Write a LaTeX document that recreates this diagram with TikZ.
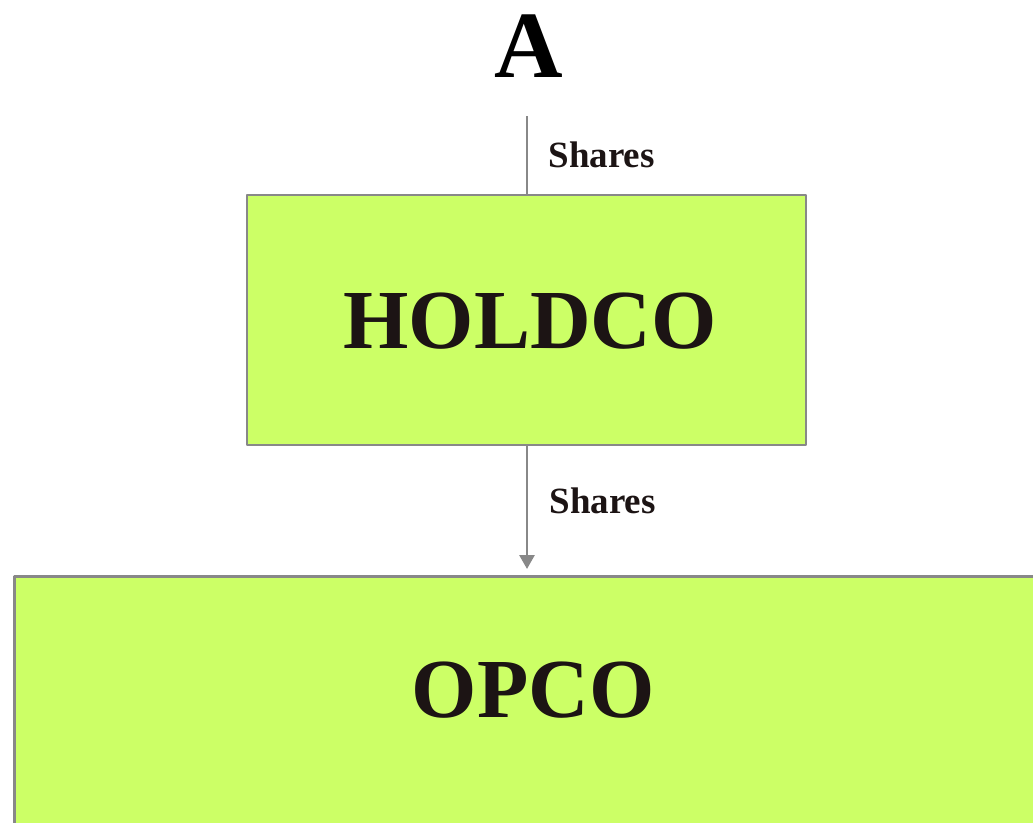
\documentclass[tikz,border=0pt]{standalone}
\usepackage{fontspec}
\setmainfont{Liberation Serif}
\usetikzlibrary{arrows.meta,positioning}
\definecolor{boxfill}{RGB}{204,255,102}
\definecolor{boxline}{RGB}{136,136,136}
\definecolor{ink}{RGB}{28,20,20}
\begin{document}
\begin{tikzpicture}[x=1pt, y=-1pt, line join=round, >={Triangle[width=15pt,length=14pt]}]
	\tikzset{
		entity/.style={draw=boxline, fill=boxfill, line width=2.8pt, inner sep=0pt},
		big/.style={font=\fontsize{84}{84}\selectfont\bfseries, text=ink},
		lbl/.style={font=\fontsize{37}{37}\selectfont\bfseries, text=ink, anchor=west},
		link/.style={draw=boxline, line width=2.8pt}
	}
	\useasboundingbox (0,0) rectangle (1033,822);
	\node[font=\fontsize{95}{95}\selectfont\bfseries, text=black] (a) at (529,46) {A};
	\coordinate (top) at (527,116);
	\node[entity, minimum width=559pt, minimum height=250pt] (holdco) at (526.5,320) {};
	\node[big] (holdcotext) at (530,321) {HOLDCO};
	\node[entity, minimum width=1100pt, minimum height=400pt, anchor=north west] (opco) at (13,575) {};
	\node[big] (opcotext) at (533,690) {OPCO};
	\draw[link] (top) -- (top |- holdco.north);
	\draw[link, ->, shorten >=6pt] (top |- holdco.south) -- (top |- opco.north);
	\node[lbl] (s1) at (545,155) {Shares};
	\node[lbl] (s2) at (546,501) {Shares};
\end{tikzpicture}
\end{document}
